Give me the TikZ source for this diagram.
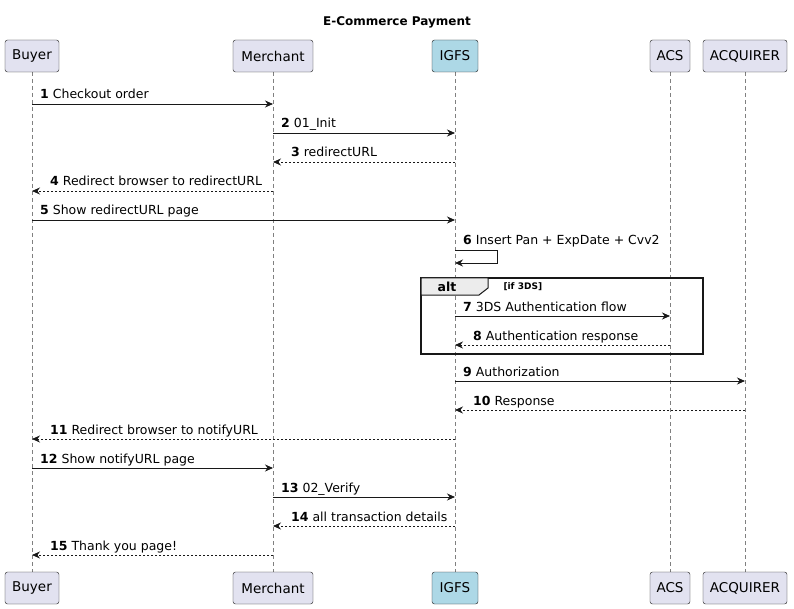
\documentclass[tikz,border=0pt]{standalone}
\usepackage{fontspec}
\setmainfont{DejaVu Sans}
\usetikzlibrary{arrows.meta}
\definecolor{pbox}{HTML}{E2E2F0}
\definecolor{pline}{HTML}{181818}
\tikzset{x=1pt,y=-1pt,
 part/.style={draw=pline,fill=pbox,rounded corners=2.5pt,minimum height=32pt,font=\fontsize{13.5}{15}\selectfont,inner xsep=4pt,anchor=center},
 life/.style={draw=gray,dashed,dash pattern=on 4pt off 3pt,line width=0.5pt},
 msg/.style={draw=pline,line width=0.8pt,-{Stealth[length=8pt,width=7pt]}},
 ret/.style={msg,dash pattern=on 2pt off 2pt},
 lbl/.style={font=\fontsize{12.5}{14}\selectfont,anchor=base west,inner sep=0pt}}
\newcommand{\mymsg}[6]{% style, from x, to x, y, labelx, text
 \coordinate (s#4) at (#2,#4); \coordinate (e#4) at (#3,#4);
 \draw[#1] (s#4) -- (e#4);
 \node[lbl] at (#5,#4-5) {#6};}
\begin{document}
\begin{tikzpicture}
\useasboundingbox (0,0) rectangle (794,609);
\node[font=\bfseries\fontsize{12}{14}\selectfont] (title) at (397,22) {E-Commerce Payment};
\foreach \x in {32,273,455,670,745}{
 \draw[life] (\x,72) -- (\x,572);
}
\foreach \n/\x/\w in {Buyer/32/54,Merchant/273/80,ACS/670/40,ACQUIRER/745/84}{
 \node[part,minimum width=\w pt] (\n t) at (\x,56) {\n};
 \node[part,minimum width=\w pt] (\n b) at (\x,588) {\n};
}
\definecolor{igfs}{HTML}{ADD8E6}
\node[part,fill=igfs,minimum width=46pt] (IGFSt) at (455,56) {IGFS};
\node[part,fill=igfs,minimum width=46pt] (IGFSb) at (455,588) {IGFS};
\mymsg{msg}{32}{273}{104}{40}{\textbf{1} Checkout order}
\mymsg{msg}{273}{455}{133}{281}{\textbf{2} 01\_Init}
\mymsg{ret}{455}{273}{162}{291}{\textbf{3} redirectURL}
\mymsg{ret}{273}{32}{191}{50}{\textbf{4} Redirect browser to redirectURL}
\mymsg{msg}{32}{455}{220}{40}{\textbf{5} Show redirectURL page}
\coordinate (s6) at (455,250); \coordinate (e6) at (455,263);
\draw[msg] (s6) -- (497,250) -- (497,263) -- (e6);
\node[lbl] at (463,245) {\textbf{6} Insert Pan + ExpDate + Cvv2};
\draw[line width=1.2pt,draw=pline] (421,278) rectangle (703,354);
\draw[line width=1pt,draw=pline,fill=gray!15] (421,278) -- (488,278) -- (488,288) -- (479,295) -- (421,295) -- cycle;
\node[font=\bfseries\fontsize{12.5}{14}\selectfont] (alt) at (447,287) {alt};
\node[font=\bfseries\fontsize{9}{10}\selectfont,anchor=west] (cond) at (500,287) {[if 3DS]};
\mymsg{msg}{455}{670}{316}{463}{\textbf{7} 3DS Authentication flow}
\mymsg{ret}{670}{455}{345}{473}{\textbf{8} Authentication response}
\mymsg{msg}{455}{745}{381}{463}{\textbf{9} Authorization}
\mymsg{ret}{745}{455}{410}{473}{\textbf{10} Response}
\mymsg{ret}{455}{32}{439}{50}{\textbf{11} Redirect browser to notifyURL}
\mymsg{msg}{32}{273}{468}{40}{\textbf{12} Show notifyURL page}
\mymsg{msg}{273}{455}{497}{281}{\textbf{13} 02\_Verify}
\mymsg{ret}{455}{273}{526}{291}{\textbf{14} all transaction details}
\mymsg{ret}{273}{32}{555}{50}{\textbf{15} Thank you page!}
\end{tikzpicture}
\end{document}
